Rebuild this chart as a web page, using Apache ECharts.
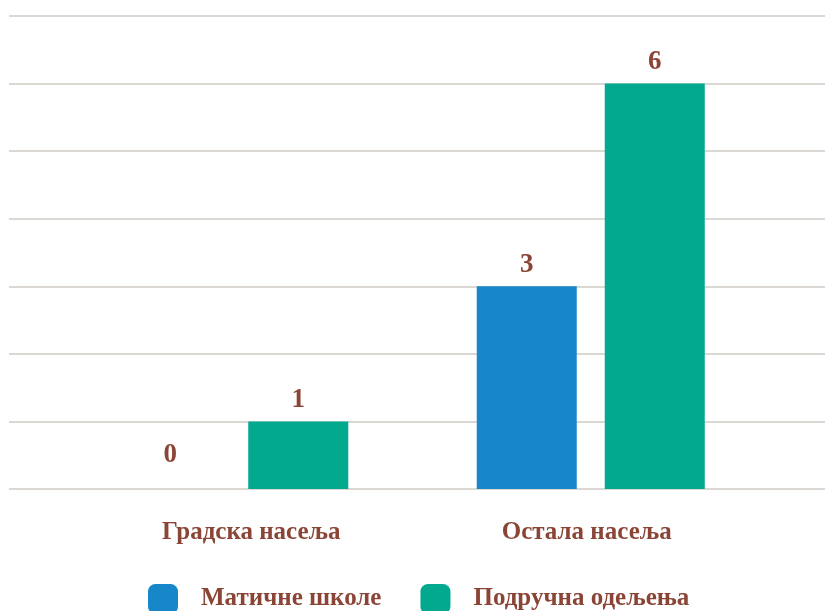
<!DOCTYPE html>
<html>
<head>
<meta charset="utf-8">
<script src="https://cdn.jsdelivr.net/npm/echarts@6/dist/echarts.min.js"></script>
<style>
  html, body { margin: 0; padding: 0; background: #fff; }
  #main { width: 825px; height: 611px; }
</style>
</head>
<body>
<div id="main"></div>
<script>
var categories = ['Градска насеља', 'Остала насеља'];
var seriesNames = ['Матичне школе', 'Подручна одељења'];
var maticne = [0, 3];
var podrucna = [1, 6];

var brown = '#8B4536';
var font = 'Liberation Serif';

var myChart = echarts.init(document.getElementById('main'));

// zero bars get their label lifted a bit higher, like the original
function barData(arr) {
    return arr.map(function (v) {
        return v === 0 ? {value: v, label: {distance: 20}} : v;
    });
}

var valueLabel = {
    show: true,
    position: 'top',
    distance: 8,
    color: brown,
    fontFamily: font,
    fontWeight: 'bold',
    fontSize: 27
};

var option = {
    animation: false,
    legend: {
        data: seriesNames,
        top: 584,
        left: 148,
        padding: 0,
        itemWidth: 30,
        itemHeight: 30,
        itemGap: 39,
        icon: 'roundRect',
        textStyle: {
            color: brown,
            fontFamily: font,
            fontWeight: 'bold',
            fontSize: 25,
            padding: [0, 0, 0, 18]
        }
    },
    grid: [
        {left: 9, right: 0, top: 16, bottom: 122},
        {left: 56, right: 56, top: 16, bottom: 122}
    ],
    xAxis: [
        {
            gridIndex: 0,
            type: 'category',
            data: categories,
            axisLine: {show: false},
            axisTick: {show: false},
            axisLabel: {show: false}
        },
        {
            gridIndex: 1,
            type: 'category',
            data: categories,
            axisLine: {show: false},
            axisTick: {show: false},
            axisLabel: {
                margin: 31,
                color: brown,
                fontFamily: font,
                fontWeight: 'bold',
                fontSize: 25,
                formatter: function (val, idx) {
                    return idx === 0 ? '{a|' + val + '}' : '{b|' + val + '}';
                },
                rich: {
                    a: {color: brown, fontFamily: font, fontWeight: 'bold', fontSize: 25, padding: [0, 0, 0, 34]},
                    b: {color: brown, fontFamily: font, fontWeight: 'bold', fontSize: 25, padding: [0, 8, 0, 0]}
                }
            }
        }
    ],
    yAxis: [
        {
            gridIndex: 0,
            type: 'value',
            min: 0,
            max: 7,
            interval: 1,
            axisLine: {show: false},
            axisTick: {show: false},
            axisLabel: {show: false},
            splitLine: {lineStyle: {color: '#dcd8d3', width: 2}}
        },
        {
            gridIndex: 1,
            type: 'value',
            min: 0,
            max: 7,
            interval: 1,
            show: false
        }
    ],
    series: [
        {
            name: seriesNames[0],
            type: 'bar',
            xAxisIndex: 1,
            yAxisIndex: 1,
            data: barData(maticne),
            barWidth: 100,
            barGap: '28%',
            itemStyle: {color: '#1787CA'},
            label: valueLabel
        },
        {
            name: seriesNames[1],
            type: 'bar',
            xAxisIndex: 1,
            yAxisIndex: 1,
            data: barData(podrucna),
            barWidth: 100,
            barGap: '28%',
            itemStyle: {color: '#02A98E'},
            label: valueLabel
        }
    ]
};

myChart.setOption(option);
</script>
</body>
</html>
